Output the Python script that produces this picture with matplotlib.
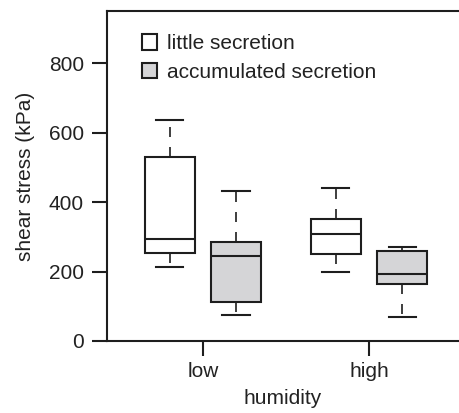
import matplotlib.pyplot as plt
from matplotlib.patches import Patch

plt.rcParams['font.family'] = ['Liberation Sans', 'DejaVu Sans']

# Data: five-number summaries
groups = ['low', 'high']
series = ['little secretion', 'accumulated secretion']
whislo = [[214, 75], [199, 70]]
q1 = [[252, 113], [250, 163]]
med = [[295, 245], [308, 193]]
q3 = [[530, 284], [352, 260]]
whishi = [[636, 432], [440, 270]]

line_col = '#1e1e1e'
fills = ['white', '#d5d5d7']
fs = 15

fig = plt.figure(figsize=(4.59, 4.13), dpi=100)
ax = fig.add_axes([107 / 459, 72 / 413, 352 / 459, 330 / 413])

offset = 0.2
for gi, g in enumerate(groups):
    for si, s in enumerate(series):
        stats = [dict(whislo=whislo[gi][si], q1=q1[gi][si], med=med[gi][si],
                      q3=q3[gi][si], whishi=whishi[gi][si], fliers=[])]
        pos = gi + 1 + (offset if si else -offset)
        ax.bxp(stats, positions=[pos], widths=0.30, patch_artist=True,
               showfliers=False, capwidths=0.165, manage_ticks=False,
               boxprops=dict(facecolor=fills[si], edgecolor=line_col, linewidth=1.5),
               medianprops=dict(color=line_col, linewidth=1.5),
               whiskerprops=dict(color=line_col, linewidth=1.2, linestyle=(0, (6, 6))),
               capprops=dict(color=line_col, linewidth=1.5))

ax.set_xlim(0.422, 2.542)
ax.set_ylim(0, 950)
ax.set_xticks([1, 2])
ax.set_xticklabels(groups)
ax.set_yticks([0, 200, 400, 600, 800])

for side in ['left', 'top', 'bottom']:
    ax.spines[side].set_linewidth(1.5)
    ax.spines[side].set_color(line_col)
ax.spines['right'].set_visible(False)
ax.tick_params(axis='both', length=11, width=1.5, color=line_col,
               labelsize=fs, labelcolor='#222222')
ax.tick_params(axis='y', pad=5.5)
ax.tick_params(axis='x', pad=4)

ax.set_ylabel('shear stress (kPa)', fontsize=fs, color='#222222', labelpad=10)
ax.set_xlabel('humidity', fontsize=fs, color='#222222', labelpad=6)

handles = [Patch(facecolor=f, edgecolor=line_col, linewidth=1.5) for f in fills]
ax.legend(handles, series, loc='upper left', bbox_to_anchor=(0.075, 0.955),
          frameon=False, fontsize=fs, handlelength=0.75, handleheight=0.75,
          handletextpad=0.45, labelspacing=0.45, borderaxespad=0, labelcolor='#222222')

fig.savefig('out.png', dpi=100)
